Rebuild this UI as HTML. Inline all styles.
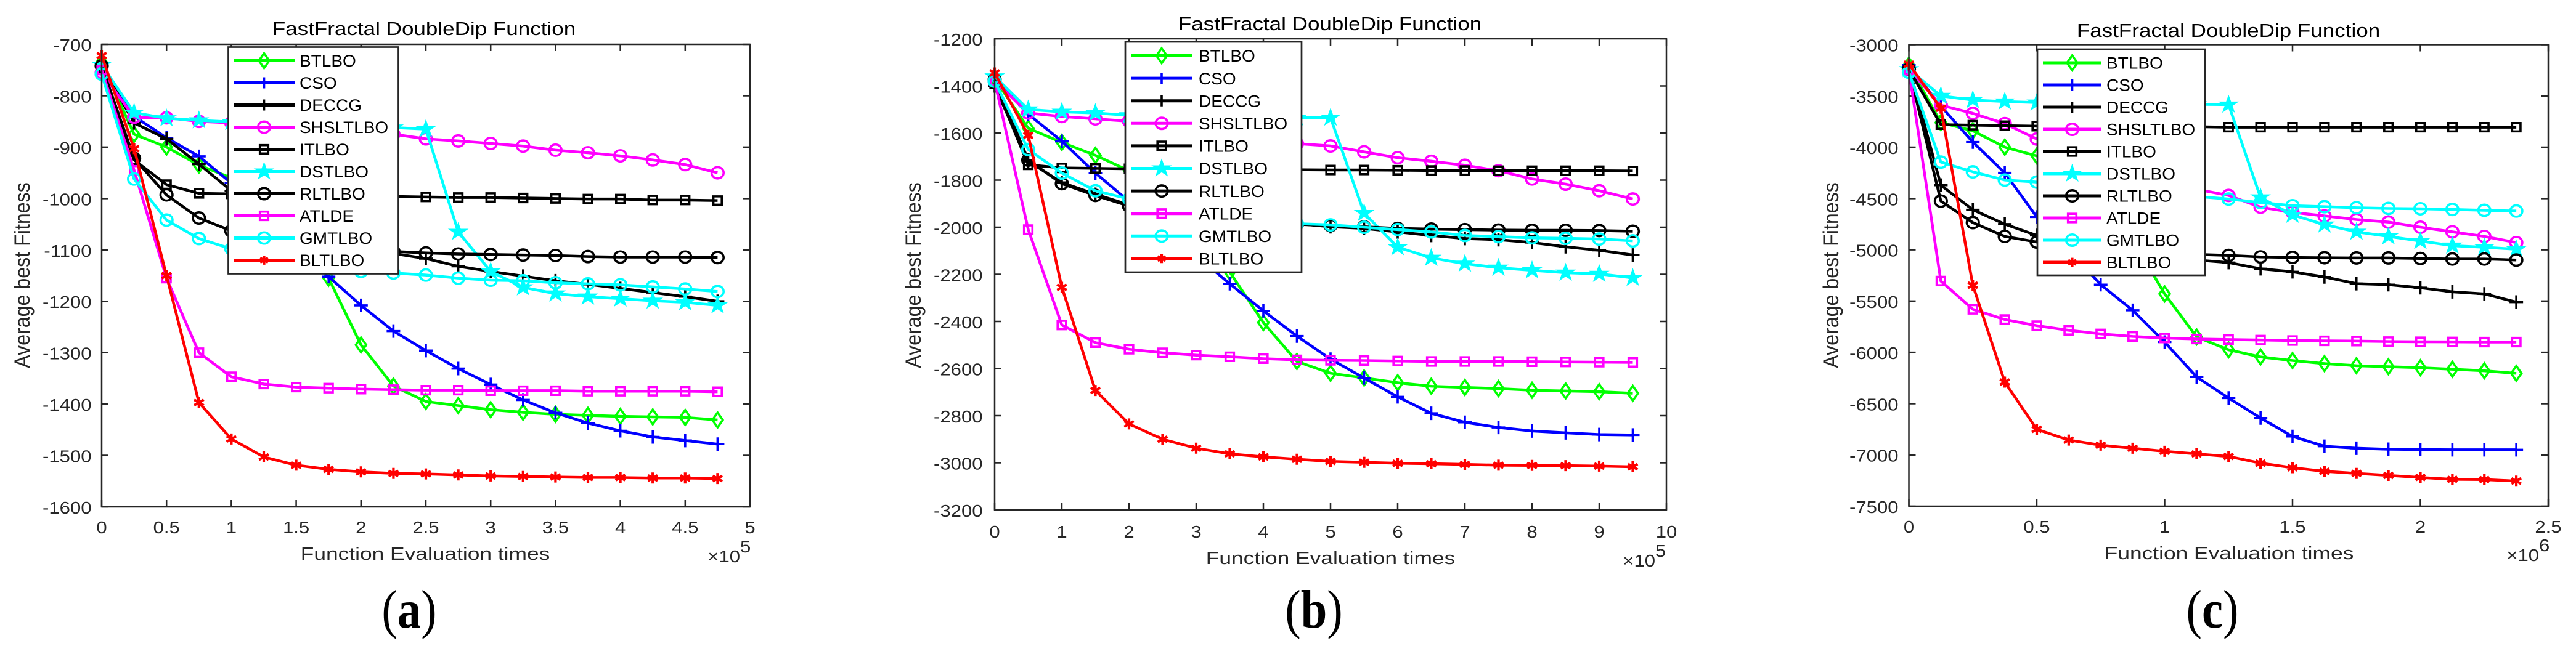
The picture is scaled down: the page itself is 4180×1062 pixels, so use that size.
<!DOCTYPE html>
<html>
<head>
<meta charset="utf-8">
<title>FastFractal DoubleDip Function</title>
<style>
html,body{margin:0;padding:0;background:#fff;width:4180px;height:1062px;overflow:hidden}
svg{display:block}
text{font-family:"Liberation Sans",sans-serif;fill:#262626}
</style>
</head>
<body>
<svg id="figure" width="4180" height="1062" viewBox="0 0 4180 1062" xmlns="http://www.w3.org/2000/svg"></svg>
<script>
const seriesNames = ['BTLBO','CSO','DECCG','SHSLTLBO','ITLBO','DSTLBO','RLTLBO','ATLDE','GMTLBO','BLTLBO'];

// Panel (a)
const aX = [0,25000,50000,75000,100000,125000,150000,175000,200000,225000,250000,275000,300000,325000,350000,375000,400000,425000,450000,475000];
const aXTicks = [0,0.5,1,1.5,2,2.5,3,3.5,4,4.5,5];
const aYTicks = [-700,-800,-900,-1000,-1100,-1200,-1300,-1400,-1500,-1600];
const aBTLBO = [-735,-875,-900,-935,-960,-1000,-1060,-1155,-1285,-1365,-1395,-1403,-1411,-1416,-1420,-1422,-1424,-1425,-1426,-1431];
const aCSO = [-740,-840,-882,-918,-970,-1030,-1090,-1152,-1208,-1258,-1296,-1331,-1362,-1392,-1417,-1437,-1452,-1464,-1471,-1478];
const aDECCG = [-740,-853,-884,-933,-985,-1020,-1050,-1075,-1090,-1107,-1117,-1132,-1142,-1151,-1160,-1167,-1175,-1183,-1191,-1200];
const aSHSLTLBO = [-755,-842,-843,-850,-853,-858,-862,-866,-870,-875,-884,-888,-893,-898,-906,-911,-917,-925,-934,-950];
const aITLBO = [-745,-925,-973,-990,-991,-992,-993,-994,-995,-996,-997,-998,-998,-999,-1000,-1001,-1001,-1003,-1003,-1004];
const aDSTLBO = [-740,-833,-844,-848,-851,-853,-855,-857,-859,-862,-865,-1065,-1142,-1173,-1185,-1191,-1195,-1199,-1202,-1208];
const aRLTLBO = [-742,-922,-993,-1038,-1063,-1080,-1090,-1096,-1100,-1103,-1106,-1108,-1109,-1110,-1111,-1113,-1114,-1114,-1114,-1115];
const aATLDE = [-750,-945,-1155,-1300,-1347,-1361,-1367,-1369,-1371,-1372,-1373,-1373,-1374,-1374,-1374,-1375,-1375,-1375,-1375,-1376];
const aGMTLBO = [-758,-962,-1042,-1078,-1098,-1113,-1125,-1135,-1142,-1145,-1149,-1155,-1159,-1160,-1164,-1166,-1168,-1172,-1176,-1181];
const aBLTLBO = [-722,-903,-1150,-1397,-1468,-1503,-1519,-1527,-1532,-1535,-1536,-1538,-1540,-1541,-1542,-1543,-1543,-1544,-1544,-1545];

// Panel (b)
const bX = [0,50000,100000,150000,200000,250000,300000,350000,400000,450000,500000,550000,600000,650000,700000,750000,800000,850000,900000,950000];
const bXTicks = [0,1,2,3,4,5,6,7,8,9,10];
const bYTicks = [-1200,-1400,-1600,-1800,-2000,-2200,-2400,-2600,-2800,-3000,-3200];
const bBTLBO = [-1370,-1580,-1640,-1695,-1760,-1850,-1980,-2190,-2405,-2570,-2620,-2640,-2660,-2675,-2680,-2685,-2692,-2695,-2698,-2705];
const bCSO = [-1370,-1520,-1635,-1770,-1890,-2010,-2120,-2240,-2355,-2462,-2560,-2640,-2720,-2790,-2828,-2850,-2865,-2873,-2880,-2882];
const bDECCG = [-1400,-1720,-1810,-1860,-1905,-1940,-1960,-1975,-1983,-1985,-1998,-2005,-2020,-2035,-2048,-2053,-2065,-2083,-2098,-2118];
const bSHSLTLBO = [-1380,-1515,-1530,-1540,-1550,-1565,-1585,-1610,-1630,-1645,-1655,-1680,-1705,-1720,-1737,-1760,-1795,-1817,-1845,-1880];
const bITLBO = [-1390,-1735,-1748,-1750,-1752,-1753,-1754,-1755,-1755,-1756,-1757,-1757,-1758,-1759,-1759,-1760,-1760,-1760,-1760,-1761];
const bDSTLBO = [-1360,-1500,-1510,-1515,-1525,-1528,-1530,-1532,-1534,-1535,-1535,-1940,-2085,-2130,-2155,-2172,-2183,-2193,-2198,-2215];
const bRLTLBO = [-1375,-1715,-1815,-1865,-1910,-1945,-1965,-1975,-1982,-1988,-1993,-1998,-2005,-2008,-2010,-2012,-2013,-2013,-2014,-2017];
const bATLDE = [-1380,-2010,-2415,-2490,-2518,-2533,-2543,-2550,-2558,-2563,-2565,-2566,-2568,-2570,-2570,-2570,-2571,-2572,-2573,-2574];
const bGMTLBO = [-1380,-1670,-1770,-1845,-1880,-1920,-1945,-1965,-1975,-1985,-1990,-2000,-2010,-2020,-2035,-2040,-2045,-2047,-2050,-2058];
const bBLTLBO = [-1345,-1610,-2255,-2693,-2835,-2900,-2938,-2962,-2975,-2985,-2994,-2998,-3002,-3004,-3007,-3010,-3011,-3012,-3014,-3017];

// Panel (c)
const cX = [0,125000,250000,375000,500000,625000,750000,875000,1000000,1125000,1250000,1375000,1500000,1625000,1750000,1875000,2000000,2125000,2250000,2375000];
const cXTicks = [0,0.5,1,1.5,2,2.5];
const cYTicks = [-3000,-3500,-4000,-4500,-5000,-5500,-6000,-6500,-7000,-7500];
const cBTLBO = [-3200,-3760,-3840,-4000,-4085,-4250,-4500,-4900,-5430,-5850,-5975,-6045,-6080,-6110,-6130,-6140,-6150,-6165,-6180,-6205];
const cCSO = [-3200,-3600,-3950,-4250,-4680,-5000,-5340,-5590,-5900,-6240,-6445,-6640,-6820,-6915,-6935,-6945,-6948,-6950,-6950,-6950];
const cDECCG = [-3220,-4370,-4610,-4750,-4860,-4950,-5020,-5060,-5080,-5100,-5125,-5185,-5215,-5265,-5330,-5340,-5370,-5410,-5430,-5510];
const cSHSLTLBO = [-3240,-3590,-3670,-3770,-3920,-4050,-4170,-4270,-4350,-4410,-4470,-4585,-4635,-4670,-4705,-4730,-4780,-4825,-4870,-4930];
const cITLBO = [-3240,-3780,-3785,-3790,-3795,-3796,-3797,-3798,-3799,-3800,-3805,-3805,-3805,-3805,-3805,-3805,-3805,-3805,-3805,-3805];
const cDSTLBO = [-3240,-3500,-3540,-3555,-3565,-3570,-3575,-3578,-3580,-3582,-3585,-4490,-4660,-4755,-4825,-4870,-4915,-4960,-4975,-4995];
const cRLTLBO = [-3240,-4525,-4735,-4870,-4925,-4970,-5000,-5020,-5035,-5045,-5055,-5070,-5075,-5078,-5080,-5080,-5085,-5090,-5090,-5100];
const cATLDE = [-3250,-5305,-5580,-5680,-5740,-5785,-5820,-5845,-5860,-5870,-5875,-5880,-5885,-5888,-5890,-5895,-5897,-5898,-5900,-5900];
const cGMTLBO = [-3270,-4145,-4240,-4320,-4340,-4380,-4420,-4440,-4460,-4480,-4505,-4540,-4570,-4580,-4590,-4597,-4600,-4607,-4615,-4622];
const cBLTLBO = [-3190,-3620,-5345,-6290,-6750,-6855,-6905,-6935,-6965,-6990,-7015,-7080,-7125,-7160,-7180,-7200,-7220,-7238,-7240,-7255];

// Series styles
const styles = {
  BTLBO:{color:'#00ff00',marker:'diamond'},
  CSO:{color:'#0000ff',marker:'plus'},
  DECCG:{color:'#000000',marker:'plus'},
  SHSLTLBO:{color:'#ff00ff',marker:'circle'},
  ITLBO:{color:'#000000',marker:'square'},
  DSTLBO:{color:'#00ffff',marker:'star'},
  RLTLBO:{color:'#000000',marker:'circle'},
  ATLDE:{color:'#ff00ff',marker:'square'},
  GMTLBO:{color:'#00ffff',marker:'circle'},
  BLTLBO:{color:'#ff0000',marker:'asterisk'}
};

const panels = [
 {id:'a',letter:'a',x:aX,xTicks:aXTicks,yTicks:aYTicks,xUnit:1e5,exp:'5',
  series:[aBTLBO,aCSO,aDECCG,aSHSLTLBO,aITLBO,aDSTLBO,aRLTLBO,aATLDE,aGMTLBO,aBLTLBO],
  L:165,R:1217,T:72,B:823,titleX:688,titleY:57,xLabX:690,xLabY:909,xTickY:866,yLabX:48,yLabY:447,yTickX:148.5,
  expX:1201,expY:913,letterX:664,
  leg:{x:370.5,y:76.5,w:276,h:368,row0:98.5,step:36,l0:380,l1:478,m:428.5,t:486}},
 {id:'b',letter:'b',x:bX,xTicks:bXTicks,yTicks:bYTicks,xUnit:1e5,exp:'5',
  series:[bBTLBO,bCSO,bDECCG,bSHSLTLBO,bITLBO,bDSTLBO,bRLTLBO,bATLDE,bGMTLBO,bBLTLBO],
  L:1614,R:2704,T:63,B:828,titleX:2158,titleY:49,xLabX:2159,xLabY:916,xTickY:873,yLabX:1494,yLabY:447,yTickX:1594.5,
  expX:2686,expY:920,letterX:2132,
  leg:{x:1826,y:68,w:286,h:374,row0:90.5,step:36.6,l0:1835,l1:1934,m:1885,t:1945}},
 {id:'c',letter:'c',x:cX,xTicks:cXTicks,yTicks:cYTicks,xUnit:1e6,exp:'6',
  series:[cBTLBO,cCSO,cDECCG,cSHSLTLBO,cITLBO,cDSTLBO,cRLTLBO,cATLDE,cGMTLBO,cBLTLBO],
  L:3097.5,R:4135,T:72.5,B:822,titleX:3616,titleY:60,xLabX:3617,xLabY:908,xTickY:865,yLabX:2983,yLabY:447,yTickX:3080.5,
  expX:4120,expY:911,letterX:3590,
  leg:{x:3306,y:80,w:272,h:367,row0:102,step:36,l0:3315,l1:3410,m:3362.5,t:3418}}
];

const NS = 'http://www.w3.org/2000/svg';
const AXIS = '#262626';
const root = document.getElementById('figure');

function mk(parent, tag, attrs){
  const e = document.createElementNS(NS, tag);
  for (const k in attrs) e.setAttribute(k, attrs[k]);
  parent.appendChild(e);
  return e;
}
function txt(parent, str, x, y, fs, sx, anchor, extra){
  const a = Object.assign({transform:'translate('+x+','+y+') scale('+sx+',1)','font-size':fs,'text-anchor':anchor}, extra||{});
  const e = mk(parent,'text',a);
  e.textContent = str;
  return e;
}
function markerShape(g, kind, cx, cy, color, sw, k){
  const common = {fill:'none',stroke:color,'stroke-width':sw};
  let d = '';
  if (kind==='diamond'){
    const w=8.5,h=12;
    d='M'+cx+' '+(cy-h)+'L'+(cx+w)+' '+cy+'L'+cx+' '+(cy+h)+'L'+(cx-w)+' '+cy+'Z';
  } else if (kind==='plus'){
    const w=11*k,h=11*k;
    d='M'+(cx-w)+' '+cy+'H'+(cx+w)+'M'+cx+' '+(cy-h)+'V'+(cy+h);
  } else if (kind==='square'){
    const s=6.8;
    d='M'+(cx-s)+' '+(cy-s)+'H'+(cx+s)+'V'+(cy+s)+'H'+(cx-s)+'Z';
  } else if (kind==='asterisk'){
    const r=9*k;
    for (let i=0;i<3;i++){
      const t=Math.PI/2+i*Math.PI/3, dx=Math.cos(t)*r, dy=Math.sin(t)*r;
      d+='M'+(cx-dx)+' '+(cy-dy)+'L'+(cx+dx)+' '+(cy+dy);
    }
    common['stroke-width']=sw+0.6;
  } else if (kind==='star'){
    const ro=16, ri=6.2;
    for (let i=0;i<10;i++){
      const r=i%2?ri:ro, t=-Math.PI/2+i*Math.PI/5;
      d+=(i?'L':'M')+(cx+Math.cos(t)*r)+' '+(cy+Math.sin(t)*r*0.92);
    }
    d+='Z';
    return mk(g,'path',{d:d,fill:color,stroke:color,'stroke-width':1});
  } else if (kind==='circle'){
    return mk(g,'ellipse',Object.assign({cx:cx,cy:cy,rx:9.8,ry:9.2},common));
  }
  return mk(g,'path',Object.assign({d:d},common));
}

panels.forEach(function(p){
  const panel = mk(root,'g',{});
  
  

  const xMax = p.xTicks[p.xTicks.length-1]*p.xUnit, xMin = p.xTicks[0]*p.xUnit;
  const yMax = p.yTicks[0], yMin = p.yTicks[p.yTicks.length-1];
  const sx = function(v){ return p.L + (v-xMin)/(xMax-xMin)*(p.R-p.L); };
  const sy = function(v){ return p.T + (yMax-v)/(yMax-yMin)*(p.B-p.T); };

  // Ticks and labels
  p.xTicks.forEach(function(t){
    const X = sx(t*p.xUnit);
    const tick = mk(panel,'path',{d:'M'+X+' '+p.B+'v-11M'+X+' '+p.T+'v11',stroke:AXIS,'stroke-width':2.5,fill:'none'});
    
    
    const lab = txt(panel,String(t),X,p.xTickY,27.5,1.13,'middle');
    
    
  });
  p.yTicks.forEach(function(t){
    const Y = sy(t);
    const tick = mk(panel,'path',{d:'M'+p.L+' '+Y+'h11M'+p.R+' '+Y+'h-11',stroke:AXIS,'stroke-width':2.5,fill:'none'});
    
    
    const lab = txt(panel,String(t),p.yTickX,Y+11,27.5,1.13,'end');
    
    
  });

  // Series
  p.series.forEach(function(vals,i){
    const name = seriesNames[i], st = styles[name];
    const g = mk(panel,'g',{});
    
    
    const pts = vals.map(function(v,j){ return sx(p.x[j])+','+sy(v); }).join(' ');
    const line = mk(g,'polyline',{points:pts,fill:'none',stroke:st.color,'stroke-width':4.5,'stroke-linejoin':'round'});
    
    
    vals.forEach(function(v,j){
      const m = markerShape(g,st.marker,sx(p.x[j]),sy(v),st.color,3.6,1);
      
      
    });
  });

  // Axes box
  const box = mk(panel,'rect',{x:p.L,y:p.T,width:p.R-p.L,height:p.B-p.T,fill:'none',stroke:AXIS,'stroke-width':2.5});
  
  

  // Titles
  const title = txt(panel,'FastFractal DoubleDip Function',p.titleX,p.titleY,31,1.13,'middle',{style:'fill:#000'});
  
  
  const xl = txt(panel,'Function Evaluation times',p.xLabX,p.xLabY,28.5,1.24,'middle');
  
  
  const yl = mk(panel,'text',{transform:'translate('+p.yLabX+','+p.yLabY+') rotate(-90) scale(0.92,1)','font-size':35,'text-anchor':'middle'});
  yl.textContent = 'Average best Fitness';
  
  

  const ex = txt(panel,'×10',p.expX,p.expY,27.5,1.13,'end');
  
  
  const ex2 = txt(panel,p.exp,p.expX,p.expY-16,27.5,1.13,'start');
  
  

  // Legend
  const L = p.leg;
  const lg = mk(panel,'g',{});
  
  
  const lb = mk(lg,'rect',{x:L.x,y:L.y,width:L.w,height:L.h,fill:'#fff',stroke:AXIS,'stroke-width':2.7});
  
  
  seriesNames.forEach(function(name,i){
    const st = styles[name], Y = L.row0+i*L.step;
    const e = mk(lg,'g',{});
    
    
    mk(e,'line',{x1:L.l0,x2:L.l1,y1:Y,y2:Y,stroke:st.color,'stroke-width':5});
    markerShape(e,st.marker,L.m,Y,st.color,3.6,0.82);
    txt(e,name,L.t,Y+9.7,26.8,1.045,'start',{style:'fill:#000'});
  });

  // Panel letter
  const cap = mk(panel,'text',{transform:'translate('+p.letterX+',1019) scale(0.87,1)','font-size':88,'text-anchor':'middle',style:'font-family:"Liberation Serif",serif;fill:#000'});
  
  
  const o = mk(cap,'tspan',{}); o.textContent='(';
  const m = mk(cap,'tspan',{'font-weight':'bold'}); m.textContent=p.letter;
  const c = mk(cap,'tspan',{}); c.textContent=')';
});
</script>
</body>
</html>
